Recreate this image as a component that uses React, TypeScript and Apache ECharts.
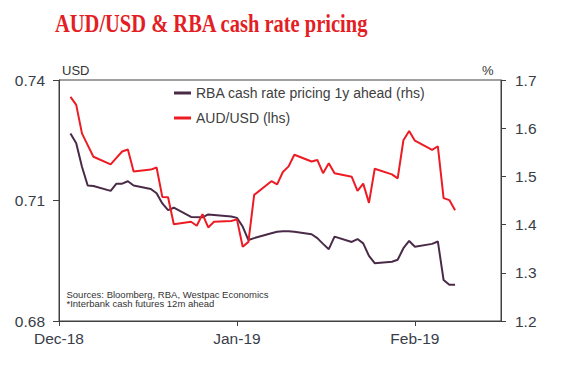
import React, { useEffect, useRef } from 'react';
import * as echarts from 'echarts';

// x values are day offsets from 1 Dec 2018
const monthTicks = [0, 31, 62];
const monthLabels = ['Dec-18', 'Jan-19', 'Feb-19'];

const audName = 'AUD/USD (lhs)';
const rbaName = 'RBA cash rate pricing 1y ahead (rhs)';

const audDays = [2, 3, 4, 5, 6, 9, 10, 11, 12, 13, 16, 17, 18, 19, 20, 23, 24, 25, 26, 27, 30, 31, 32, 33, 34, 37, 38, 39, 40, 41, 44, 45, 46, 47, 48, 51, 52, 53, 54, 55, 58, 59, 60, 61, 62, 65, 66, 67, 68, 69];
const audValues = [0.7358, 0.7338, 0.7267, 0.7238, 0.7209, 0.719, 0.7206, 0.7222, 0.7227, 0.7172, 0.7177, 0.7182, 0.7109, 0.7108, 0.7041, 0.7047, 0.7037, 0.7066, 0.7033, 0.7047, 0.7049, 0.7053, 0.6985, 0.6997, 0.7114, 0.7148, 0.714, 0.7171, 0.7185, 0.7214, 0.7197, 0.7201, 0.7168, 0.7193, 0.7168, 0.7159, 0.7124, 0.7142, 0.7094, 0.7179, 0.7165, 0.7155, 0.725, 0.7273, 0.7249, 0.7226, 0.7235, 0.7106, 0.7101, 0.7076];

const rbaDays = [2, 3, 4, 5, 6, 9, 10, 11, 12, 13, 16, 17, 18, 19, 20, 23, 25, 26, 27, 30, 31, 32, 33, 34, 37, 38, 39, 40, 41, 44, 45, 46, 47, 48, 51, 52, 53, 54, 55, 58, 59, 60, 61, 62, 65, 66, 67, 68, 69];
const rbaValues = [1.589, 1.569, 1.52, 1.481, 1.48, 1.47, 1.485, 1.485, 1.49, 1.481, 1.474, 1.465, 1.444, 1.43, 1.435, 1.416, 1.415, 1.421, 1.42, 1.417, 1.414, 1.396, 1.368, 1.372, 1.382, 1.385, 1.386, 1.386, 1.385, 1.38, 1.372, 1.36, 1.349, 1.375, 1.364, 1.37, 1.361, 1.335, 1.32, 1.323, 1.327, 1.351, 1.366, 1.354, 1.36, 1.365, 1.285, 1.275, 1.275];

const leftTicks = { min: 0.68, max: 0.74, interval: 0.03 };
const rightTicks = { min: 1.2, max: 1.7, interval: 0.1 };

const axisColor = '#404040';
const labelColor = '#383d48';
const sans = '"Liberation Sans", Arial, sans-serif';

export default function App() {
  const ref = useRef<HTMLDivElement>(null);
  useEffect(() => {
    const chart = echarts.init(ref.current!, null, { renderer: 'svg' });
    const axisLine = { show: true, onZero: false, lineStyle: { color: axisColor, width: 1 } };
    chart.setOption({
      animation: false,
      backgroundColor: '#ffffff',
      textStyle: { fontFamily: sans },
      grid: { left: 59, right: 64, top: 80, bottom: 44, show: true, borderColor: axisColor, borderWidth: 1 },
      legend: {
        orient: 'vertical',
        left: 174,
        top: 86,
        padding: 0,
        itemWidth: 17,
        itemHeight: 3,
        itemGap: 11,
        icon: 'rect',
        data: [rbaName, audName],
        textStyle: { fontSize: 14, color: '#404040', fontFamily: sans },
      },
      xAxis: {
        type: 'value',
        min: 0,
        max: 77,
        interval: 31,
        axisLine,
        axisTick: { show: true, inside: false, length: 5, customValues: monthTicks, lineStyle: { color: axisColor } },
        axisLabel: {
          customValues: monthTicks,
          margin: 9,
          fontSize: 15.5,
          color: labelColor,
          formatter: (v: number) => {
            const i = monthTicks.indexOf(Math.round(v));
            return i >= 0 ? monthLabels[i] : '';
          },
        },
        splitLine: { show: false },
      },
      yAxis: [
        {
          type: 'value',
          position: 'left',
          ...leftTicks,
          axisLine,
          axisTick: { show: true, inside: false, length: 6, lineStyle: { color: axisColor } },
          axisLabel: { margin: 14, fontSize: 15.5, color: labelColor, formatter: (v: number) => v.toFixed(2) },
          splitLine: { show: false },
        },
        {
          type: 'value',
          position: 'right',
          ...rightTicks,
          axisLine,
          axisTick: { show: true, inside: false, length: 5, lineStyle: { color: axisColor } },
          axisLabel: { margin: 14, fontSize: 15.5, color: labelColor, formatter: (v: number) => v.toFixed(1) },
          splitLine: { show: false },
        },
      ],
      graphic: [
        {
          type: 'text',
          x: 55,
          y: 24,
          scaleY: 1.18,
          style: {
            text: 'AUD/USD & RBA cash rate pricing',
            fontSize: 20.5,
            fontWeight: 'bold',
            fontFamily: '"Liberation Serif", "Times New Roman", serif',
            fill: '#e31e24',
            verticalAlign: 'middle',
          },
        },
        { type: 'text', x: 62, y: 70, style: { text: 'USD', fontSize: 13, fill: '#333', fontFamily: sans, verticalAlign: 'middle' } },
        { type: 'text', x: 482, y: 70, style: { text: '%', fontSize: 13, fill: '#333', fontFamily: sans, verticalAlign: 'middle' } },
        { type: 'text', x: 66.5, y: 294, style: { text: 'Sources: Bloomberg, RBA, Westpac Economics', fontSize: 9.5, fill: '#333', fontFamily: sans, verticalAlign: 'middle' } },
        { type: 'text', x: 66.5, y: 303.5, style: { text: '*Interbank cash futures 12m ahead', fontSize: 9.5, fill: '#333', fontFamily: sans, verticalAlign: 'middle' } },
      ],
      series: [
        {
          name: rbaName,
          type: 'line',
          yAxisIndex: 1,
          showSymbol: false,
          color: '#4a2b47',
          lineStyle: { width: 2, color: '#4a2b47' },
          data: rbaDays.map((d, i) => [d, rbaValues[i]]),
        },
        {
          name: audName,
          type: 'line',
          yAxisIndex: 0,
          showSymbol: false,
          color: '#ed1c24',
          lineStyle: { width: 2, color: '#ed1c24' },
          data: audDays.map((d, i) => [d, audValues[i]]),
        },
      ],
    });
    return () => chart.dispose();
  }, []);
  return <div ref={ref} style={{ position: 'absolute', left: 0, top: 0, width: 565, height: 365, background: '#fff' }} />;
}
